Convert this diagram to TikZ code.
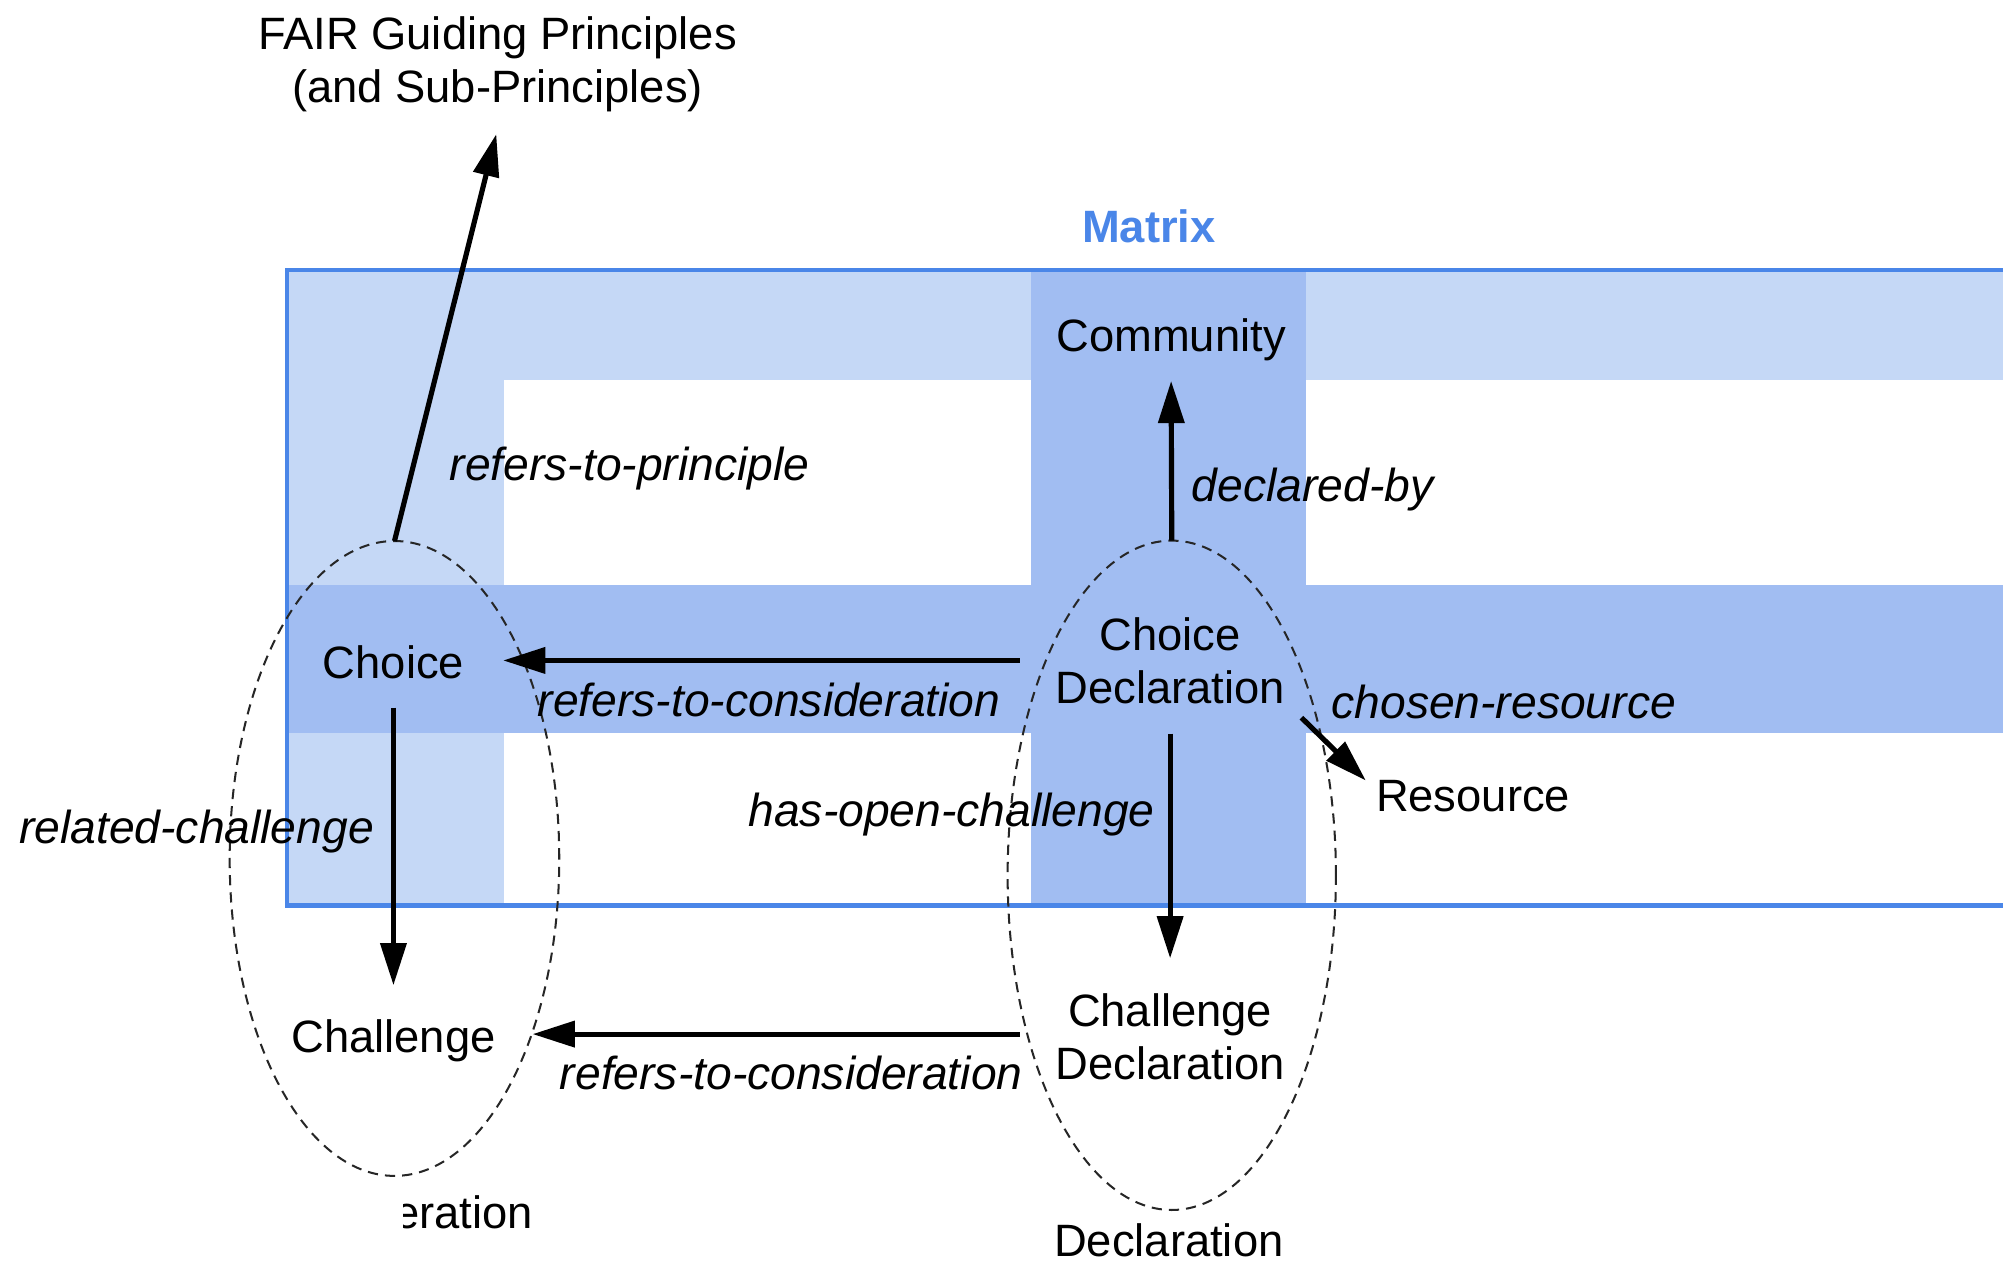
\documentclass[tikz,border=0pt]{standalone}
\usepackage{fontspec}
\setmainfont{Liberation Sans}
\usetikzlibrary{arrows.meta,shapes.geometric,calc}
\definecolor{mxlight}{HTML}{C5D8F6}
\definecolor{mxdark}{HTML}{A1BDF2}
\definecolor{mxblue}{HTML}{4A86E8}
\tikzset{
  txt/.style={inner sep=0pt, outer sep=0pt, font=\fontsize{10.1}{11.8}\selectfont},
  lbl/.style={inner sep=0pt, outer sep=0pt, font=\fontsize{10.3}{11.8}\selectfont\itshape},
  arr/.style={line width=1.15pt, -{Triangle[length=3.3mm,width=2mm]}},
  grp/.style={draw=black!85, line width=0.45pt, dash pattern=on 0.8mm off 0.55mm,
              ellipse, inner sep=0pt, outer sep=0pt},
}
\begin{document}
\begin{tikzpicture}[x=0.1mm,y=-0.1mm]
\useasboundingbox (0,0) rectangle (1568,991);
\clip (0,0) rectangle (1568,991);

% ---- Matrix background ----
\fill[mxlight] (224.7,211.5) rectangle (1600,708.9);
\fill[white] (394.4,297.8) rectangle (1600,708.9);
\fill[mxdark] (224.7,457.9) rectangle (1600,574);
\fill[mxdark] (806.9,211.5) rectangle (1022.2,708.9);
\draw[mxblue, line width=0.36mm] (1620,211.5) -- (224.7,211.5) -- (224.7,708.9) -- (1620,708.9);
\node[inner sep=0pt, anchor=base west, text=mxblue, font=\fontsize{10.1}{11.8}\selectfont\bfseries] (matrixlbl) at (846.4,190.1) {Matrix};

% ---- group ellipses ----
\node[grp, minimum width=25.8mm, minimum height=49.7mm] (consgrp) at (308.8,672) {};
\node[grp, minimum width=25.7mm, minimum height=52.4mm] (declgrp) at (917.3,685.2) {};

% ---- text nodes ----
\node[txt, align=center] (fair) at (389.5,50.2) {FAIR Guiding Principles\\(and Sub-Principles)};
\node[txt, anchor=base] (community) at (916.8,274.8) {Community};
\node[txt, anchor=base] (choice) at (308,531.5) {Choice};
\node[txt, anchor=base] (challenge) at (308,824) {Challenge};
\node[txt, align=center] (choicedecl) at (916,517) {Choice\\Declaration};
\node[txt, align=center] (challdecl) at (916,811.5) {Challenge\\Declaration};
\node[txt, anchor=base west] (resource) at (1077.2,635.4) {Resource};
\node[txt, anchor=base] (decllbl) at (915,983.7) {Declaration};
\begin{scope}
  \clip (316,900) rectangle (700,991);
  \node[txt, anchor=base east] (conslbl) at (417,961.6) {Consideration};
\end{scope}

% ---- connector labels ----
\node[lbl, anchor=base west] (l-principle) at (352,376.4) {refers-to-principle};
\node[lbl, anchor=base west] (l-declared) at (933,392.4) {declared-by};
\node[lbl, anchor=base west] (l-cons1) at (421,561) {refers-to-consideration};
\node[lbl, anchor=base west] (l-cons2) at (438.3,853) {refers-to-consideration};
\node[lbl, anchor=base west] (l-related) at (15,660.5) {related-challenge};
\node[lbl, anchor=base west] (l-open) at (586,646.6) {has-open-challenge};
\node[lbl, anchor=base west] (l-chosen) at (1042.3,562.8) {chosen-resource};

% ---- connectors ----
\draw[arr] (consgrp.north) -- ([xshift=-0.1mm,yshift=-1.75mm]fair.south);
\draw[arr] (declgrp.north) -- ([yshift=-1.6mm]community.south);
\draw[arr] ([xshift=-2.8mm]choicedecl.west) -- ($(choice.east |- choicedecl.west)+(3.06mm,0)$);
\draw[arr] ([xshift=-2.8mm,yshift=0.2mm]challdecl.west) -- ($(challenge.east |- challdecl.west)+(2.9mm,0.2mm)$);
\draw[arr] ([yshift=-2.2mm]choice.south) -- ([yshift=2.7mm]challenge.north);
\draw[arr] ([yshift=-2.35mm]choicedecl.south) -- ([yshift=2.75mm]challdecl.north);
\draw[arr] ([xshift=1.3mm,yshift=-1.1mm]choicedecl.south east) -- ([xshift=-0.8mm]resource.north west);
\end{tikzpicture}
\end{document}
